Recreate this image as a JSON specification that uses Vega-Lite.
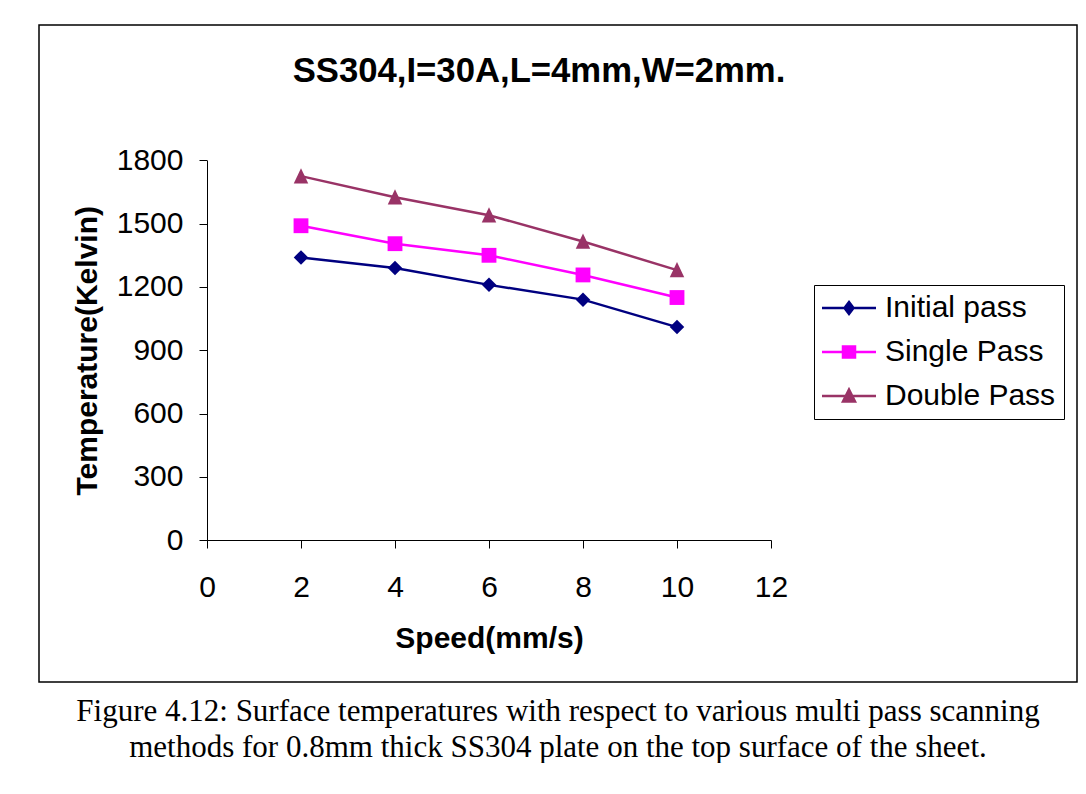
{
  "$schema": "https://vega.github.io/schema/vega-lite/v6.json",
  "background": "white",
  "padding": {"left": 38, "top": 24, "right": 0, "bottom": 0},
  "title": {
    "text": ["Figure 4.12: Surface temperatures with respect to various multi pass scanning", "methods for 0.8mm thick SS304 plate on the top surface of the sheet."],
    "orient": "bottom", "anchor": "middle", "frame": "group",
    "font": "Liberation Serif", "fontSize": 31, "fontWeight": "normal", "color": "black",
    "lineHeight": 36, "offset": 14
  },
  "config": {
    "view": {"stroke": "black", "strokeWidth": 1.5},
    "axis": {
      "grid": false, "domainColor": "black", "tickColor": "black", "labelColor": "black", "titleColor": "black",
      "labelFont": "Liberation Sans", "labelFontSize": 30, "titleFont": "Liberation Sans", "titleFontSize": 30,
      "titleFontWeight": "bold", "tickSize": 8, "domainWidth": 1, "tickWidth": 1, "labelFlush": false, "labelOverlap": false
    }
  },
  "vconcat": [
    {
      "width": 1038,
      "height": 657,
      "title": {
        "text": "SS304,I=30A,L=4mm,W=2mm.", "font": "Liberation Sans", "fontSize": 34.7, "fontWeight": "bold",
        "color": "black", "anchor": "middle", "frame": "group", "offset": -92, "dx": -19, "baseline": "alphabetic"
      },
      "data": {
        "values": [
          {"speed": 2, "temp": 1340, "series": "Initial pass"},
          {"speed": 4, "temp": 1290, "series": "Initial pass"},
          {"speed": 6, "temp": 1210, "series": "Initial pass"},
          {"speed": 8, "temp": 1140, "series": "Initial pass"},
          {"speed": 10, "temp": 1010, "series": "Initial pass"},
          {"speed": 2, "temp": 1490, "series": "Single Pass"},
          {"speed": 4, "temp": 1405, "series": "Single Pass"},
          {"speed": 6, "temp": 1350, "series": "Single Pass"},
          {"speed": 8, "temp": 1257, "series": "Single Pass"},
          {"speed": 10, "temp": 1150, "series": "Single Pass"},
          {"speed": 2, "temp": 1725, "series": "Double Pass"},
          {"speed": 4, "temp": 1625, "series": "Double Pass"},
          {"speed": 6, "temp": 1540, "series": "Double Pass"},
          {"speed": 8, "temp": 1415, "series": "Double Pass"},
          {"speed": 10, "temp": 1280, "series": "Double Pass"}
        ]
      },
      "encoding": {
        "x": {
          "field": "speed", "type": "quantitative",
          "scale": {"domain": [0, 12], "range": [168, 732], "nice": false, "zero": false},
          "axis": {"orient": "bottom", "offset": -142, "values": [0, 2, 4, 6, 8, 10, 12], "title": "Speed(mm/s)", "labelPadding": 24, "titlePadding": 21}
        },
        "y": {
          "field": "temp", "type": "quantitative",
          "scale": {"domain": [0, 1800], "range": [515.3, 135.3], "nice": false, "zero": false},
          "axis": {"orient": "left", "offset": -168, "format": "d", "values": [0, 300, 600, 900, 1200, 1500, 1800], "title": "Temperature(Kelvin)", "labelPadding": 16, "titlePadding": 14}
        },
        "color": {
          "field": "series", "type": "nominal",
          "scale": {"domain": ["Initial pass", "Single Pass", "Double Pass"], "range": ["#000080", "#FF00FF", "#993366"]},
          "legend": {
            "orient": "none", "legendX": 775, "legendY": 260, "title": null,
            "labelFont": "Liberation Sans", "labelFontSize": 30, "labelColor": "black",
            "symbolSize": 4, "symbolStrokeWidth": 2.5, "symbolOpacity": 1, "symbolFillColor": "transparent",
            "strokeColor": "black", "padding": 8, "rowPadding": 14, "labelOffset": 33, "labelLimit": 400
          }
        }
      },
      "layer": [
        {"mark": {"type": "line", "strokeWidth": 2.5}},
        {
          "transform": [{"filter": {"field": "series", "equal": "Initial pass"}}],
          "mark": {"type": "point", "shape": "diamond", "filled": true, "size": 210, "opacity": 1}
        },
        {
          "transform": [{"filter": {"field": "series", "equal": "Single Pass"}}],
          "mark": {"type": "point", "shape": "square", "filled": true, "size": 220, "opacity": 1}
        },
        {
          "transform": [{"filter": {"field": "series", "equal": "Double Pass"}}],
          "mark": {"type": "point", "shape": "M0,-1.1L1,1L-1,1Z", "filled": true, "size": 210, "opacity": 1}
        },
        {
          "transform": [{"filter": "false"}],
          "mark": {"type": "point", "filled": false, "strokeWidth": 2.5, "size": 4, "opacity": 1},
          "encoding": {
            "shape": {
              "field": "series", "type": "nominal",
              "scale": {
                "domain": ["Initial pass", "Single Pass", "Double Pass"],
                "range": [
                  "M-15,0L39,0M12,-6L16.5,0L12,6L7.5,0ZM10.5,-4L13.5,-4M9,-2L15,-2M9,2L15,2M10.5,4L13.5,4",
                  "M-15,0L39,0M6,-5.5L18,-5.5L18,5.5L6,5.5ZM6,-3.5L18,-3.5M6,-1.5L18,-1.5M6,1.5L18,1.5M6,3.5L18,3.5",
                  "M-15,0L39,0M12,-6.5L18,5.5L6,5.5ZM11,-4.5L13,-4.5M10,-2.5L14,-2.5M9,-0.5L15,-0.5M8,1.5L16,1.5M7,3.5L17,3.5"
                ]
              }
            }
          }
        }
      ]
    }
  ]
}
